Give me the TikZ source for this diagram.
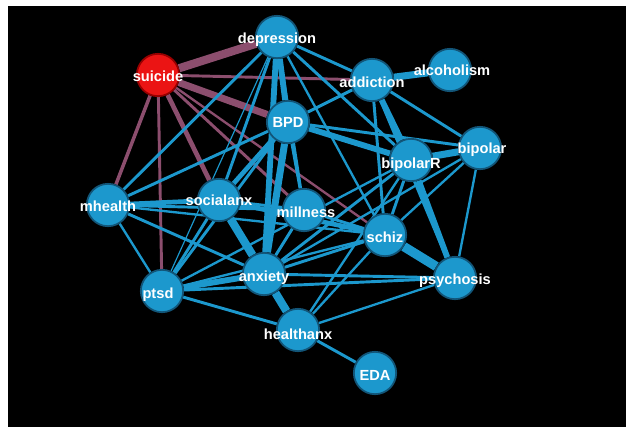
\documentclass[tikz,border=0pt]{standalone}
\usepackage{fontspec}
\setmainfont{Liberation Sans}
\pgfdeclarelayer{bg}
\pgfdeclarelayer{edges}
\pgfsetlayers{bg,edges,main}
\definecolor{nodeblue}{RGB}{28,152,205}
\definecolor{rimblue}{RGB}{18,85,120}
\definecolor{mauve}{RGB}{140,78,110}
\definecolor{nodered}{RGB}{235,20,20}
\begin{document}
\begin{tikzpicture}[x=0.03cm, y=-0.03cm,
                    term/.style={circle, fill=nodeblue, draw=rimblue, line width=1.5pt,
                                 minimum size=1.27cm, inner sep=0pt},
                    lbl/.style={text=white, font=\bfseries\fontsize{12.5pt}{13}\selectfont},
                    link/.style={draw=nodeblue, line width=#1},
                    risk/.style={draw=mauve, line width=#1}]
  % Canvas.
  \useasboundingbox (0, 0) rectangle (634, 438);
  \begin{pgfonlayer}{bg}
    \fill [white] (0, 0) rectangle (634, 438);
    \fill [black] (8, 6) rectangle (626, 427);
  \end{pgfonlayer}

  % Terms.
  \node at (277, 37) [term, name=depression] {};
  \node at (158, 75) [term, fill=nodered, draw=red!60!black, name=suicide] {};
  \node at (372, 80) [term, name=addiction] {};
  \node at (450, 70) [term, name=alcoholism] {};
  \node at (288, 122) [term, name=BPD] {};
  \node at (411, 160) [term, name=bipolarR] {};
  \node at (480, 148) [term, name=bipolar] {};
  \node at (108, 205) [term, name=mhealth] {};
  \node at (219, 200) [term, name=socialanx] {};
  \node at (304, 210) [term, name=millness] {};
  \node at (385, 235) [term, name=schiz] {};
  \node at (264, 274) [term, name=anxiety] {};
  \node at (455, 278) [term, name=psychosis] {};
  \node at (162, 291) [term, name=ptsd] {};
  \node at (298, 330) [term, name=healthanx] {};
  \node at (375, 373) [term, name=EDA] {};

  % Labels.
  \foreach \n/\x/\y in {depression/277/40, suicide/158/76, addiction/372/82,
                        alcoholism/452/70, BPD/288/122, bipolarR/411/165, bipolar/482/150,
                        mhealth/108/206, socialanx/219/200, millness/306/212, schiz/385/237,
                        anxiety/264/278, psychosis/455/281, ptsd/158/295, healthanx/298/334,
                        EDA/375/375}
    \node at (\x, \y) [lbl] {\n};

  % Links.
  \begin{pgfonlayer}{edges}
    \foreach \a/\b/\w in {suicide/depression/7pt, suicide/addiction/2.5pt, suicide/BPD/6pt,
                          suicide/mhealth/3pt, suicide/ptsd/2.5pt, suicide/socialanx/4pt,
                          suicide/millness/2.5pt, suicide/schiz/2pt}
      \draw [risk=\w] (\a) -- (\b);
    \foreach \a/\b/\w in {depression/addiction/2.5pt, depression/BPD/5pt, depression/socialanx/2.5pt,
                          depression/anxiety/5pt, depression/mhealth/2.5pt, depression/bipolarR/2.5pt,
                          depression/schiz/2pt, depression/ptsd/1pt, depression/millness/2.5pt,
                          addiction/alcoholism/6pt, addiction/BPD/2.5pt, addiction/bipolarR/5pt,
                          addiction/bipolar/2.5pt, addiction/schiz/2.5pt, addiction/psychosis/2.5pt,
                          BPD/bipolarR/5pt, BPD/bipolar/2.5pt, BPD/socialanx/4pt, BPD/anxiety/6pt,
                          BPD/millness/2.5pt, BPD/mhealth/2.5pt, BPD/ptsd/2.5pt,
                          bipolarR/bipolar/6pt, bipolarR/psychosis/5pt, bipolarR/schiz/2.5pt,
                          bipolarR/anxiety/2.5pt, bipolarR/healthanx/2pt, bipolarR/ptsd/2pt,
                          bipolar/psychosis/2pt, bipolar/schiz/2pt, bipolar/anxiety/2pt,
                          mhealth/socialanx/4pt, mhealth/millness/2.5pt, mhealth/ptsd/2pt,
                          mhealth/anxiety/2.5pt, mhealth/schiz/2pt,
                          socialanx/anxiety/7pt, socialanx/schiz/4pt, socialanx/ptsd/2.5pt,
                          socialanx/millness/2.5pt, millness/anxiety/2.5pt, millness/schiz/2.5pt,
                          schiz/psychosis/8pt, schiz/anxiety/2.5pt, schiz/healthanx/2pt,
                          schiz/ptsd/2pt, anxiety/psychosis/2.5pt, anxiety/healthanx/7pt,
                          anxiety/ptsd/5pt, ptsd/psychosis/2.5pt, ptsd/healthanx/2.5pt,
                          healthanx/psychosis/2pt, healthanx/EDA/2.5pt}
      \draw [link=\w] (\a) -- (\b);
  \end{pgfonlayer}
\end{tikzpicture}
\end{document}
